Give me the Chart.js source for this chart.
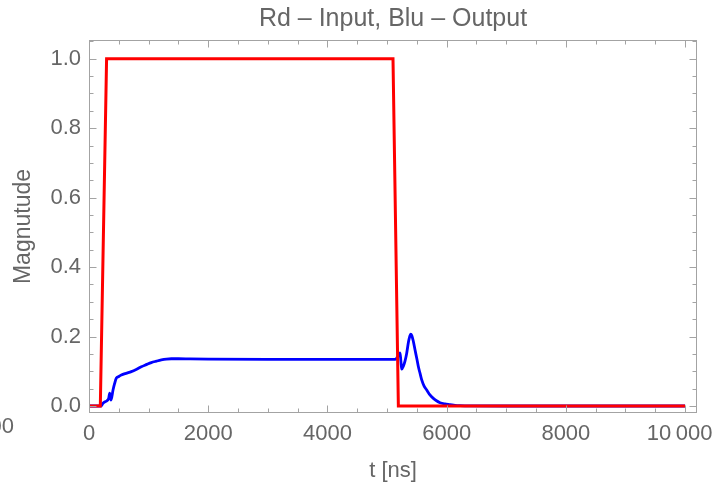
<!DOCTYPE html>
<html>
<head>
<meta charset="utf-8">
<script src="https://cdn.jsdelivr.net/npm/chart.js@4.4.1/dist/chart.umd.min.js"></script>
<style>
  html, body { margin: 0; padding: 0; background: #fff; }
</style>
</head>
<body>
<canvas id="myChart" width="715" height="484"></canvas>
<script>
// Input pulse (red)
const inputT = [0, 190, 295, 5100, 5190, 10000];
const inputMag = [0, 0, 1, 1, 0, 0];

// Output response (blue)
const outputT = [
  0, 200, 235, 268, 302, 330, 347, 369, 403, 430, 458, 500, 542, 620, 710,
  800, 878, 960, 1045, 1130, 1213, 1300, 1381, 1500, 1700, 2000, 3000, 4000,
  5000, 5140, 5170, 5200, 5218, 5232, 5246, 5275, 5302, 5330, 5360, 5380,
  5397, 5415, 5440, 5470, 5500, 5526, 5555, 5582, 5620, 5666, 5720, 5777,
  5830, 5889, 5970, 6057, 6140, 6225, 6400, 7000, 10000,
];
const outputMag = [
  0, 0, 0.008, 0.012, 0.015, 0.022, 0.037, 0.017, 0.046, 0.065, 0.08, 0.085,
  0.089, 0.094, 0.099, 0.106, 0.113, 0.119, 0.125, 0.129, 0.1325, 0.135,
  0.136, 0.136, 0.1355, 0.135, 0.1345, 0.1345, 0.1345, 0.1345, 0.14, 0.148,
  0.153, 0.13, 0.106, 0.115, 0.13, 0.152, 0.185, 0.2, 0.207, 0.203, 0.187,
  0.161, 0.136, 0.113, 0.093, 0.075, 0.058, 0.046, 0.032, 0.022, 0.015,
  0.0095, 0.006, 0.004, 0.002, 0.001, 0.0003, 0, 0,
];

// Axis tick labels
const xTicks = [0, 2000, 4000, 6000, 8000, 10000];
const xTickLabels = ["0", "2000", "4000", "6000", "8000", "10\u2009000\u2002"];
const yTicks = [0, 0.2, 0.4, 0.6, 0.8, 1.0];
const yTickLabels = ["0.0", "0.2", "0.4", "0.6", "0.8", "1.0"];

const textGray = "#666666";
const frameGray = "#a3a3a3";
const fontFamily = "'Liberation Sans', Arial, Helvetica, sans-serif";

const toPoints = (xs, ys) => xs.map((t, i) => ({ x: t, y: ys[i] }));

// Mathematica-style frame with inward ticks on all four sides
const framePlugin = {
  id: "frame",
  afterDatasetsDraw(chart) {
    const { ctx, chartArea: a, scales } = chart;
    const x = scales.x, y = scales.y;
    const L = Math.round(a.left) + 0.5, R = Math.round(a.right) - 0.5;
    const T = Math.round(a.top) + 0.5, B = Math.round(a.bottom) - 0.5;
    ctx.save();
    ctx.strokeStyle = frameGray;
    ctx.lineWidth = 1;
    ctx.strokeRect(L, T, R - L, B - T);
    ctx.beginPath();
    for (let i = 0; i * 500 <= x.max; i++) {
      const px = Math.round(x.getPixelForValue(i * 500)) + 0.5;
      const len = i % 4 === 0 ? 7 : 4;
      ctx.moveTo(px, B); ctx.lineTo(px, B - len);
      ctx.moveTo(px, T); ctx.lineTo(px, T + len);
    }
    for (let i = 0; i * 0.05 <= y.max; i++) {
      const py = Math.round(y.getPixelForValue(i * 0.05)) + 0.5;
      const len = i % 4 === 0 ? 7 : 4;
      ctx.moveTo(L, py); ctx.lineTo(L + len, py);
      ctx.moveTo(R, py); ctx.lineTo(R - len, py);
    }
    ctx.stroke();

    // clipped label fragment at the lower left edge
    ctx.fillStyle = textGray;
    ctx.font = "22px " + fontFamily;
    ctx.textAlign = "right";
    ctx.textBaseline = "alphabetic";
    ctx.fillText("000", 14, 433);
    ctx.restore();
  },
};

const ctx = document.getElementById("myChart").getContext("2d");
new Chart(ctx, {
  type: "line",
  data: {
    datasets: [
      {
        label: "Input",
        data: toPoints(inputT, inputMag),
        borderColor: "#ff0000",
        borderWidth: 3,
        pointRadius: 0,
        tension: 0,
      },
      {
        label: "Output",
        data: toPoints(outputT, outputMag),
        borderColor: "#0000ff",
        borderWidth: 2.8,
        pointRadius: 0,
        cubicInterpolationMode: "monotone",
      },
    ],
  },
  options: {
    responsive: false,
    animation: false,
    layout: { padding: { left: 0, right: 18, top: 0, bottom: 0 } },
    plugins: {
      legend: { display: false },
      tooltip: { enabled: false },
      title: {
        display: true,
        text: "Rd \u2013 Input, Blu \u2013 Output",
        color: textGray,
        fullSize: false,
        font: { family: fontFamily, size: 25, weight: "normal", lineHeight: 1.2 },
        padding: { top: 4, bottom: 6 },
      },
    },
    scales: {
      x: {
        type: "linear",
        min: 0,
        max: 10200,
        grid: { display: false, drawTicks: false },
        border: { display: false },
        afterBuildTicks: (s) => { s.ticks = xTicks.map((v) => ({ value: v })); },
        afterFit: (s) => { s.height = 71; s.paddingLeft = 0; s.paddingRight = 0; },
        ticks: {
          color: textGray,
          font: { family: fontFamily, size: 22 },
          padding: 8,
          maxRotation: 0,
          callback: (v) => xTickLabels[xTicks.indexOf(v)],
        },
        title: {
          display: true,
          text: "t [ns]",
          color: textGray,
          font: { family: fontFamily, size: 22 },
          padding: { top: 0, bottom: 0 },
        },
      },
      y: {
        type: "linear",
        min: -0.0202,
        max: 1.054,
        grid: { display: false, drawTicks: false },
        border: { display: false },
        afterBuildTicks: (s) => { s.ticks = yTicks.map((v) => ({ value: v })); },
        afterFit: (s) => { s.width = 89; s.paddingTop = 0; s.paddingBottom = 0; },
        ticks: {
          color: textGray,
          font: { family: fontFamily, size: 22 },
          padding: 8,
          callback: (v) => yTickLabels[yTicks.indexOf(v)],
        },
        title: {
          display: true,
          text: "Magnutude",
          color: textGray,
          font: { family: fontFamily, size: 23 },
          padding: { top: 10, bottom: 0 },
        },
      },
    },
  },
  plugins: [framePlugin],
});
</script>
</body>
</html>
